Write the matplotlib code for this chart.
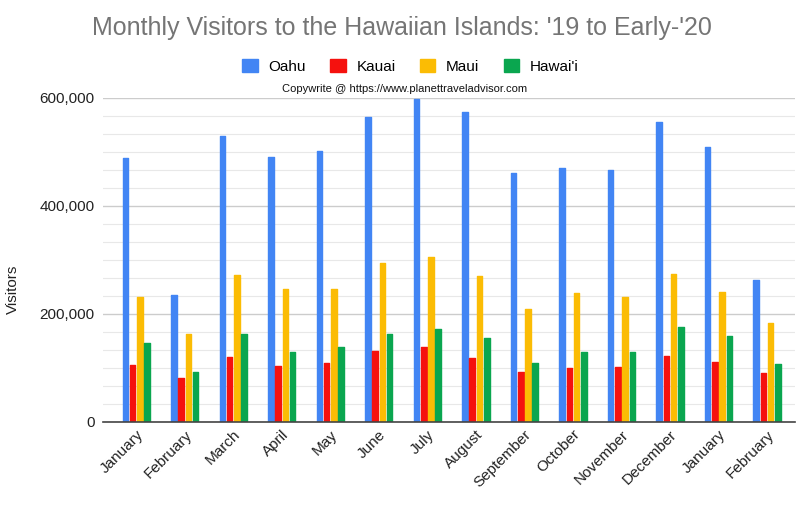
import numpy as np
import matplotlib.pyplot as plt
from matplotlib.ticker import FuncFormatter, MultipleLocator

months = ["January", "February", "March", "April", "May", "June", "July",
          "August", "September", "October", "November", "December",
          "January", "February"]

oahu = [488000, 234000, 530000, 491000, 502000, 564000, 598000,
        573000, 460000, 470000, 467000, 555000, 509000, 263000]
kauai = [105000, 82000, 121000, 104000, 109000, 132000, 139000,
         118000, 93000, 99000, 101000, 122000, 111000, 90000]
maui = [232000, 162000, 272000, 246000, 246000, 294000, 306000,
        270000, 209000, 238000, 231000, 273000, 241000, 183000]
hawaii = [146000, 93000, 162000, 130000, 138000, 162000, 172000,
          155000, 109000, 129000, 129000, 175000, 159000, 107000]

series = [("Oahu", oahu, "#4285F4"),
          ("Kauai", kauai, "#F5110E"),
          ("Maui", maui, "#FBBC04"),
          ("Hawai'i", hawaii, "#0AA64F")]

plt.rcParams['font.family'] = ['Liberation Sans', 'DejaVu Sans']

fig = plt.figure(figsize=(8, 5.12), dpi=100)
ax = fig.add_axes([0.129, 0.176, 0.865, 0.633])

x = np.arange(len(months))
width = 0.115
step = 0.149
for i, (name, vals, color) in enumerate(series):
    ax.bar(x + (i - 1.5) * step, vals, width, color=color, label=name,
           edgecolor=color, linewidth=1.0, joinstyle='round', zorder=3)

ax.set_xlim(-0.68, len(months) - 0.42)
ax.set_ylim(0, 600000)
ax.yaxis.set_major_locator(MultipleLocator(200000))
ax.yaxis.set_minor_locator(MultipleLocator(200000 / 6))
ax.yaxis.set_major_formatter(FuncFormatter(lambda v, p: f"{int(v):,}"))
ax.grid(axis='y', which='major', color='#cccccc', linewidth=1.0, zorder=0)
ax.grid(axis='y', which='minor', color='#e8e8e8', linewidth=0.8, zorder=0)
ax.tick_params(axis='y', which='both', length=0, labelsize=11, pad=6, colors='#222222')
ax.tick_params(axis='x', length=0, labelsize=11, pad=4, colors='#222222')
for s in ['top', 'right', 'left']:
    ax.spines[s].set_visible(False)
ax.spines['bottom'].set_color('#444444')
ax.spines['bottom'].set_linewidth(1.2)
ax.spines['bottom'].set_zorder(4)

ax.set_xticks(x)
ax.set_xticklabels(months, rotation=45, ha='right', rotation_mode='anchor')
fig.text(0.016, 0.435, "Visitors", rotation=90, ha='center', va='center',
         fontsize=11, color='#222222')

fig.text(0.503, 0.945, "Monthly Visitors to the Hawaiian Islands: '19 to Early-'20",
         ha='center', va='center', fontsize=18, color='#757575')
fig.legend(loc='center', bbox_to_anchor=(0.513, 0.871), ncol=4, frameon=False,
           fontsize=11, handlelength=1.0, handleheight=1.0, columnspacing=1.6,
           handletextpad=0.7)
fig.text(0.506, 0.826, "Copywrite @ https://www.planettraveladvisor.com",
         ha='center', va='center', fontsize=8, color='#111111')

fig.savefig("out.png", dpi=100)
